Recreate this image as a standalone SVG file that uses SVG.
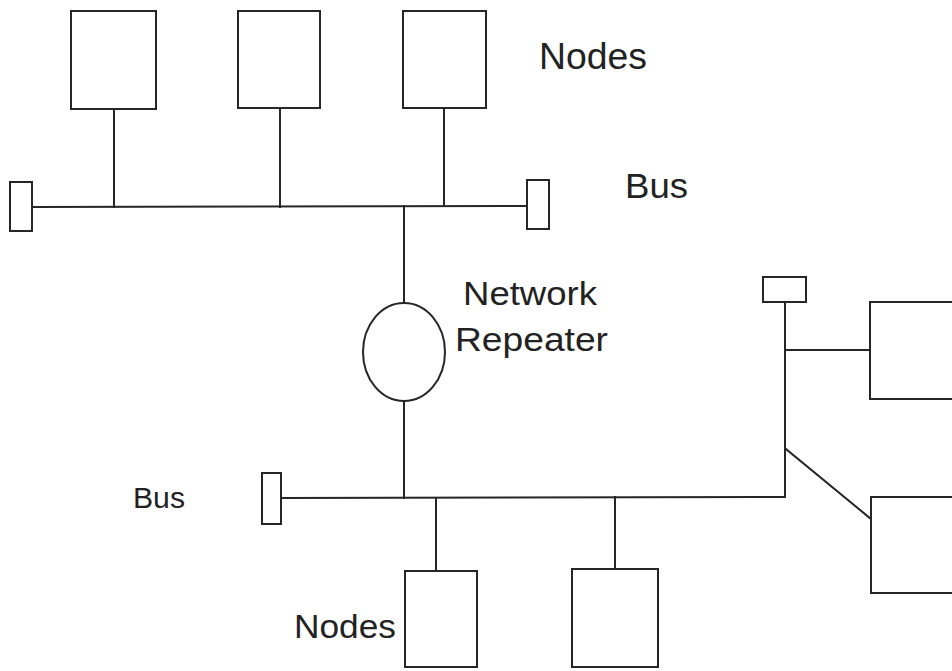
<svg xmlns="http://www.w3.org/2000/svg" width="952" height="671" viewBox="0 0 952 671">
  <style>
    .shape { fill: #ffffff; stroke: #262626; stroke-width: 2; }
    .wire { fill: none; stroke: #262626; stroke-width: 2; stroke-linecap: square; }
    .label { font-family: "Liberation Sans", Arial, sans-serif; fill: #222222; }
  </style>
  <rect width="952" height="671" fill="#ffffff"/>

  <!-- connectors: bus segments and drop lines -->
  <g id="connectors" class="wire">
    <!-- upper bus -->
    <line x1="32" y1="207" x2="527" y2="206"/>
    <line x1="114" y1="109" x2="114" y2="207"/>
    <line x1="280" y1="108" x2="280" y2="207"/>
    <line x1="444" y1="108" x2="444" y2="206"/>
    <!-- through the repeater -->
    <line x1="404" y1="206" x2="404" y2="303"/>
    <line x1="404" y1="401" x2="404" y2="498"/>
    <!-- lower bus -->
    <polyline points="281,498 785,497 785,302"/>
    <line x1="436" y1="498" x2="436" y2="571"/>
    <line x1="615" y1="497" x2="615" y2="569"/>
    <!-- right-hand branches -->
    <line x1="785" y1="350" x2="870" y2="350"/>
    <line x1="786" y1="449" x2="871" y2="519"/>
  </g>

  <!-- upper nodes -->
  <g id="node-top-1"><rect class="shape" x="71" y="11" width="85" height="98"/></g>
  <g id="node-top-2"><rect class="shape" x="238" y="11" width="82" height="97"/></g>
  <g id="node-top-3"><rect class="shape" x="403" y="11" width="83" height="97"/></g>

  <!-- terminators -->
  <g id="term-upper-left"><rect class="shape" x="10" y="182" width="22" height="49"/></g>
  <g id="term-upper-right"><rect class="shape" x="527" y="180" width="22" height="49"/></g>
  <g id="term-lower-left"><rect class="shape" x="262" y="473" width="19" height="51"/></g>
  <g id="term-lower-right"><rect class="shape" x="763" y="277" width="43" height="25"/></g>

  <!-- repeater -->
  <g id="repeater"><ellipse class="shape" cx="404" cy="352" rx="41" ry="49"/></g>

  <!-- lower nodes -->
  <g id="node-bottom-1"><rect class="shape" x="405" y="571" width="72" height="96"/></g>
  <g id="node-bottom-2"><rect class="shape" x="572" y="569" width="86" height="98"/></g>
  <g id="node-right-1"><rect class="shape" x="870" y="302" width="100" height="97"/></g>
  <g id="node-right-2"><rect class="shape" x="871" y="497" width="100" height="96"/></g>

  <!-- labels -->
  <g id="labels" class="label">
    <text x="539" y="69" font-size="36" textLength="108" lengthAdjust="spacingAndGlyphs">Nodes</text>
    <text x="625" y="198" font-size="35" textLength="63" lengthAdjust="spacingAndGlyphs">Bus</text>
    <text x="463" y="305" font-size="33" textLength="134" lengthAdjust="spacingAndGlyphs">Network</text>
    <text x="455" y="351" font-size="33" textLength="153" lengthAdjust="spacingAndGlyphs">Repeater</text>
    <text x="133" y="508" font-size="30" textLength="52" lengthAdjust="spacingAndGlyphs">Bus</text>
    <text x="294" y="638" font-size="34" textLength="102" lengthAdjust="spacingAndGlyphs">Nodes</text>
  </g>
</svg>
